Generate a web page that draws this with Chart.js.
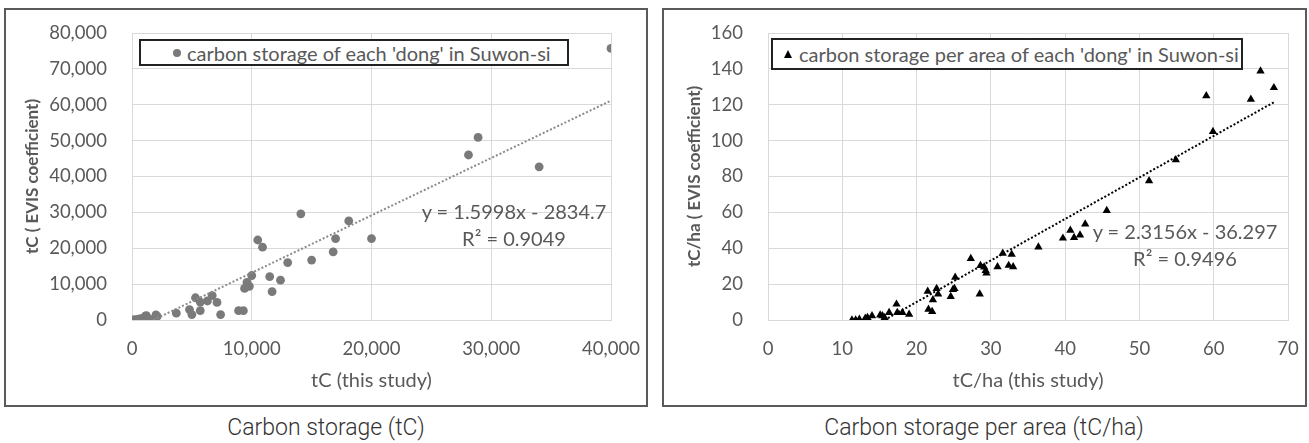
<!DOCTYPE html>
<html>
<head>
<meta charset="utf-8">
<script src="https://cdn.jsdelivr.net/npm/chart.js@4.4.1/dist/chart.umd.min.js"></script>
<style>
  body { margin:0; width:1309px; height:443px; background:#fff; position:relative; overflow:hidden; font-family:Lato, sans-serif; }
  .panel { position:absolute; top:8px; height:399px; border:2px solid #5a5a5a; box-sizing:border-box; }
  .panel canvas { position:absolute; left:0; top:0; }
  .legend { position:absolute; border:2px solid #222; box-sizing:border-box; background:#fff; font-size:20px; color:#595959; white-space:nowrap; display:flex; align-items:center; }
  .dot { display:inline-block; width:8px; height:8px; border-radius:50%; background:#7a7a7a; }
  .tri { display:inline-block; width:0; height:0; border-left:4.5px solid transparent; border-right:4.5px solid transparent; border-bottom:8px solid #000; }
  .eq { position:absolute; font-size:20px; color:#595959; white-space:nowrap; transform:translate(-50%,-50%); line-height:1; }
  .caption { position:absolute; top:427px; transform:translate(-50%,-50%); font-family:Roboto, sans-serif; font-weight:300; font-size:23px; color:#333; white-space:nowrap; }
</style>
</head>
<body>
<div class="panel" style="left:4px;width:644px"><canvas id="c1" width="640" height="395"></canvas></div>
<div class="panel" style="left:662px;width:645px"><canvas id="c2" width="641" height="395"></canvas></div>

<div class="legend" style="left:139px;top:39px;width:430px;height:27px;padding-left:32px"><span class="dot"></span><span style="margin-left:6px">carbon storage of each 'dong' in Suwon-si</span></div>
<div class="legend" style="left:771px;top:38px;width:472px;height:32px;padding-left:11px"><span class="tri"></span><span style="margin-left:7px">carbon storage per area of each 'dong' in Suwon-si</span></div>

<div class="eq" id="eq1" style="left:514px;top:211px"></div>
<div class="eq" id="r1" style="left:514px;top:238px"></div>
<div class="eq" id="eq2" style="left:1185px;top:231px"></div>
<div class="eq" id="r2" style="left:1185px;top:258px"></div>

<div class="caption" style="left:326px">Carbon storage (tC)</div>
<div class="caption" style="left:984px">Carbon storage per area (tC/ha)</div>

<script>
// carbon storage (tC) per dong : this study vs EVIS coefficient
const storageX = [40000, 28900, 28100, 34000, 14100, 18100, 20000, 17000, 16800, 15000,
  13000, 10500, 10900, 11500, 12400, 11700, 10000, 9600, 9800, 9400,
  8900, 9300, 7400, 7100, 6700, 6300, 5300, 5700, 5700, 5000,
  4800, 3700, 2000, 1900, 1100, 900, 100, 300, 500, 700,
  1200, 1400, 2100, 600]
const storageY = [75700, 50900, 46000, 42700, 29600, 27600, 22700, 22700, 19000, 16700,
  16000, 22300, 20300, 12100, 11100, 7900, 12400, 10500, 9400, 8800,
  2600, 2600, 1500, 4900, 6800, 5300, 6200, 5000, 2600, 1500,
  2900, 1900, 1400, 400, 1100, 100, 0, 100, 200, 400,
  1200, 300, 1000, 0]

// carbon storage per area (tC/ha)
const perAreaX = [66.3, 68.1, 59.0, 65.0, 59.9, 54.9, 51.3, 45.6, 42.7, 40.7,
  39.7, 41.2, 42.0, 36.4, 31.6, 32.8, 32.4, 33.0, 30.9, 27.3,
  28.6, 29.1, 29.3, 29.4, 28.5, 25.2, 24.9, 25.1, 24.6, 22.7,
  22.9, 22.2, 21.5, 21.6, 22.1, 17.3, 17.4, 18.1, 19.0, 16.3,
  15.1, 15.4, 15.7, 14.0, 13.4, 13.1, 12.3, 11.8, 11.3]
const perAreaY = [138.8, 129.5, 125.0, 123.0, 105.1, 89.3, 77.6, 61.0, 53.5, 50.0,
  45.6, 46.0, 47.4, 40.6, 37.2, 36.6, 30.4, 29.6, 29.6, 34.2,
  30.3, 29.5, 27.6, 26.1, 14.4, 23.8, 17.0, 17.5, 13.1, 17.5,
  14.4, 11.3, 16.0, 6.0, 4.7, 8.8, 4.1, 4.1, 3.2, 4.1,
  2.8, 2.3, 1.3, 2.3, 1.3, 1.0, 0.4, 0, 0]

// axis ranges [min, max, step]
const storageXAxis = [0, 40000, 10000]
const storageYAxis = [0, 80000, 10000]
const perAreaXAxis = [0, 70, 10]
const perAreaYAxis = [0, 160, 20]

// trendlines as printed on the charts
const storageFit = { slope: 1.5998, intercept: -2834.7, r2: 0.9049 }
const perAreaFit = { slope: 2.3156, intercept: -36.297, r2: 0.9496 }

const tickColor = '#595959'
const gridColor = '#d9d9d9'

function trendPoints(xs, fit) {
  let x0 = Math.max(Math.min(...xs), -fit.intercept / fit.slope)
  let x1 = Math.max(...xs)
  return [{x: x0, y: fit.slope * x0 + fit.intercept}, {x: x1, y: fit.slope * x1 + fit.intercept}]
}

function makeChart(id, o) {
  let pts = o.xs.map((x, i) => ({x: x, y: o.ys[i]}))
  return new Chart(document.getElementById(id), {
    type: 'scatter',
    data: {
      datasets: [
        {
          type: 'line', data: trendPoints(o.xs, o.fit), borderColor: o.lineColor,
          borderWidth: 2, borderDash: [2, 2], pointRadius: 0, fill: false
        },
        {
          data: pts, pointStyle: o.pointStyle, pointRadius: o.radius,
          backgroundColor: o.pointColor, borderColor: o.pointColor, borderWidth: 0
        }
      ]
    },
    options: {
      responsive: false,
      animation: false,
      devicePixelRatio: 1,
      layout: { padding: { left: 0, top: 23, right: o.padRight, bottom: 0 } },
      plugins: { legend: { display: false }, tooltip: { enabled: false } },
      scales: {
        x: {
          type: 'linear', min: o.xAxis[0], max: o.xAxis[1],
          // fixed axis size so the plot area lands where the original has it
          afterFit: s => { s.height = 85; s.paddingLeft = 0; s.paddingRight = 0 },
          grid: { color: gridColor, drawTicks: false },
          border: { color: gridColor },
          ticks: {
            stepSize: o.xAxis[2], color: tickColor, padding: 18, maxRotation: 0, autoSkip: false,
            font: { family: 'Lato', size: 18.5 },
            callback: v => v.toLocaleString('en-US')
          },
          title: {
            display: true, text: o.xTitle, color: tickColor,
            font: { family: 'Lato', size: 20 }, padding: { top: 0, bottom: 12 }
          }
        },
        y: {
          type: 'linear', min: o.yAxis[0], max: o.yAxis[1],
          afterFit: s => { s.width = o.yWidth; s.paddingTop = 0; s.paddingBottom = 0 },
          grid: { color: gridColor, drawTicks: false },
          border: { color: gridColor },
          ticks: {
            stepSize: o.yAxis[2], color: tickColor, padding: 25,
            font: { family: 'Lato', size: 18.5 },
            callback: v => v.toLocaleString('en-US')
          },
          title: {
            display: true, text: o.yTitle, color: tickColor,
            font: { family: 'Lato', size: 17, weight: 'bold' }, padding: { top: o.yTitlePad, bottom: 0 }
          }
        }
      }
    }
  })
}

makeChart('c1', {
  xs: storageX, ys: storageY, fit: storageFit, xAxis: storageXAxis, yAxis: storageYAxis,
  pointStyle: 'circle', radius: 4.4, pointColor: '#7a7a7a', lineColor: '#8a8a8a',
  xTitle: 'tC (this study)', yTitle: 'tC ( EVIS coefficient)',
  yWidth: 126, padRight: 35, yTitlePad: 16
})

makeChart('c2', {
  xs: perAreaX, ys: perAreaY, fit: perAreaFit, xAxis: perAreaXAxis, yAxis: perAreaYAxis,
  pointStyle: 'triangle', radius: 4.8, pointColor: '#000', lineColor: '#000',
  xTitle: 'tC/ha (this study)', yTitle: 'tC/ha ( EVIS coefficient)',
  yWidth: 104, padRight: 17, yTitlePad: 20
})

function eqText(fit) {
  let sign = fit.intercept < 0 ? ' - ' : ' + '
  return 'y = ' + fit.slope + 'x' + sign + Math.abs(fit.intercept)
}
document.getElementById('eq1').textContent = eqText(storageFit)
document.getElementById('r1').textContent = 'R\u00b2 = ' + storageFit.r2
document.getElementById('eq2').textContent = eqText(perAreaFit)
document.getElementById('r2').textContent = 'R\u00b2 = ' + perAreaFit.r2
</script>
</body>
</html>
